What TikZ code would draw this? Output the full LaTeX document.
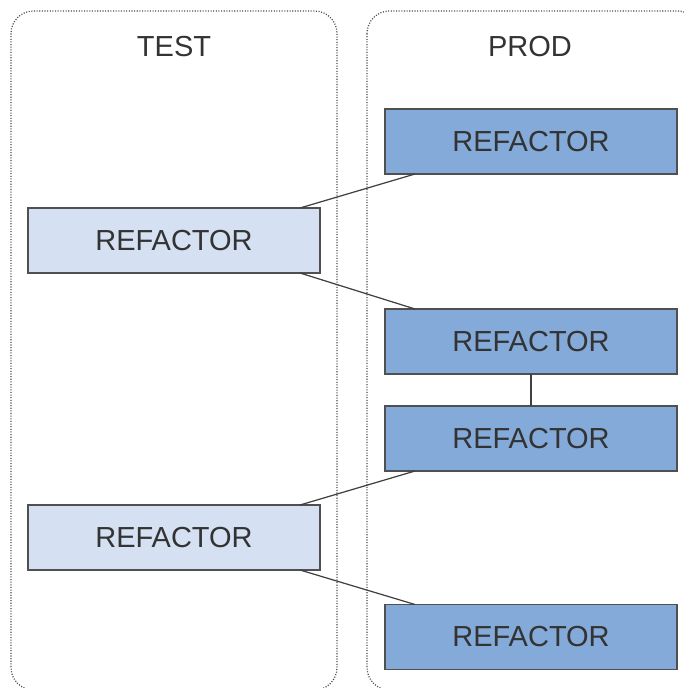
\documentclass[tikz,border=0pt]{standalone}
\usepackage{fontspec}
\setmainfont{Liberation Sans}
\usepackage{xcolor}
\definecolor{testfill}{HTML}{D5E1F2}
\definecolor{prodfill}{HTML}{84AAD9}
\definecolor{edgegray}{HTML}{505050}
\definecolor{textgray}{HTML}{333333}
\usepackage{tikz}
\usetikzlibrary{positioning}
\tikzset{
  panel/.style ={rectangle, rounded corners=0.45cm, draw=black!70,
                 dash pattern=on 0.6pt off 0.9pt, line width=0.7pt},
  ptitle/.style={font=\fontsize{16.5}{19}\selectfont, text=textgray, inner sep=0pt},
  rbox/.style  ={rectangle, draw=edgegray, line width=0.7pt, inner sep=0pt, outer sep=0pt,
                 minimum width=5.84cm, minimum height=1.3cm,
                 font=\fontsize{16.5}{19}\selectfont, text=textgray},
  tbox/.style  ={rbox, fill=testfill},
  pbox/.style  ={rbox, fill=prodfill},
  link/.style  ={draw=black!75, line width=0.7pt},
}

\begin{document}
\begin{tikzpicture}[x=0.02cm, y=-0.02cm]
  \useasboundingbox (0,0) rectangle (683,688);
  \draw[panel] (11,11) rectangle (337,690);
  \draw[panel] (367,11) rectangle (700,690);
  \node[ptitle] (ttest) at (174,47) {TEST};
  \node[ptitle] (tprod) at (530,47) {PROD};

  \node[tbox] (t1) at (174,240.5) {REFACTOR};
  \node[tbox] (t2) at (174,537.5) {REFACTOR};
  \node[pbox] (p1) at (531,141.5) {REFACTOR};
  \node[pbox] (p2) at (531,341.5) {REFACTOR};
  \node[pbox] (p3) at (531,438.5) {REFACTOR};
  \node[pbox] (p4) at (531,637) {REFACTOR};

  \draw[link] ([xshift=-0.4cm]t1.north east) -- ([xshift=0.6cm]p1.south west);
  \draw[link] ([xshift=-0.4cm]t1.south east) -- ([xshift=0.6cm]p2.north west);
  \draw[link] (p2.south) -- (p3.north);
  \draw[link] ([xshift=-0.4cm]t2.north east) -- ([xshift=0.6cm]p3.south west);
  \draw[link] ([xshift=-0.4cm]t2.south east) -- ([xshift=0.6cm]p4.north west);
\end{tikzpicture}
\end{document}
